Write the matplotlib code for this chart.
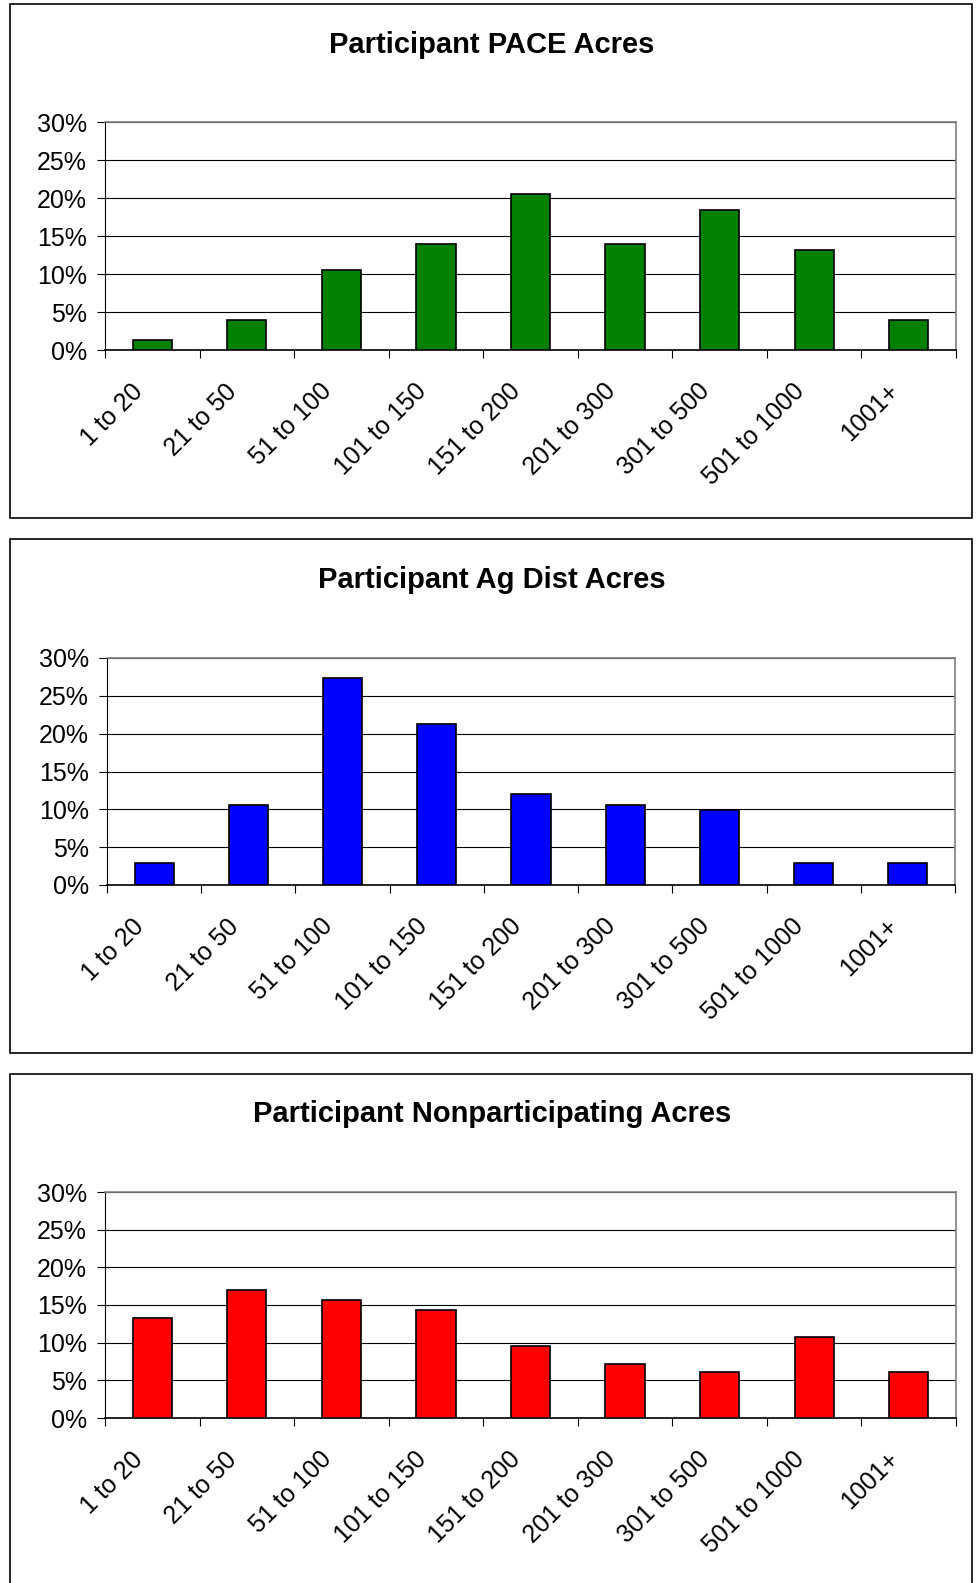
import numpy as np
import matplotlib
matplotlib.use('Agg')
import matplotlib.pyplot as plt
from matplotlib.patches import Rectangle
from matplotlib.ticker import PercentFormatter, FixedLocator
from matplotlib.transforms import ScaledTranslation

plt.rcParams['font.family'] = ['Liberation Sans', 'DejaVu Sans']

categories = ['1 to 20', '21 to 50', '51 to 100', '101 to 150', '151 to 200',
              '201 to 300', '301 to 500', '501 to 1000', '1001+']

pace_acres = [1.3, 3.9, 10.5, 14.0, 20.5, 14.0, 18.4, 13.2, 3.9]
ag_dist_acres = [2.9, 10.6, 27.4, 21.3, 12.0, 10.6, 9.9, 2.9, 2.9]
nonpart_acres = [13.3, 17.0, 15.7, 14.3, 9.5, 7.2, 6.1, 10.8, 6.1]

titles = ['Participant PACE Acres', 'Participant Ag Dist Acres',
          'Participant Nonparticipating Acres']
colors = ['#008000', '#0000FF', '#FF0000']
series = [pace_acres, ag_dist_acres, nonpart_acres]

W, H = 977, 1583
fig = plt.figure(figsize=(W / 100, H / 100), dpi=100)

# pixel layout: (box top, box bottom, axes left, axes right, axes top, axes bottom, title y)
layout = [
    (4, 518, 105, 956, 122, 350, 45),
    (539, 1053, 107, 955, 658, 885, 580),
    (1074, 1600, 105, 956, 1192, 1418, 1114),
]

for (btop, bbot, al, ar, at, ab, ty), vals, col, title in zip(layout, series, colors, titles):
    # outer chart frame
    fig.patches.append(Rectangle((10 / W, 1 - bbot / H), (972 - 10) / W, (bbot - btop) / H,
                                 transform=fig.transFigure, fill=False,
                                 edgecolor='black', linewidth=1.2))
    fig.text(492 / W, 1 - ty / H, title, ha='center', va='center',
             fontsize=21, fontweight='bold')

    ax = fig.add_axes([al / W, 1 - ab / H, (ar - al) / W, (ab - at) / H])
    x = np.arange(len(categories))
    ax.bar(x, np.array(vals) / 100, width=0.415, color=col, edgecolor='black',
           linewidth=1.2, zorder=3)

    ax.set_xlim(-0.5, len(categories) - 0.5)
    ax.set_ylim(0, 0.30)
    ax.set_yticks(np.arange(0, 0.301, 0.05))
    ax.yaxis.set_major_formatter(PercentFormatter(1.0, decimals=0))
    ax.yaxis.grid(True, color='black', linewidth=0.8)
    ax.set_axisbelow(True)

    ax.set_xticks(x)
    ax.set_xticklabels(categories, rotation=45, ha='right', va='top',
                       rotation_mode='anchor')
    ax.xaxis.set_minor_locator(FixedLocator(np.arange(-0.5, len(categories), 1.0)))
    ax.tick_params(axis='x', which='major', length=0, pad=21, labelsize=18)
    ax.tick_params(axis='x', which='minor', length=6, width=0.8, direction='out')
    ax.tick_params(axis='y', length=6, width=0.8, direction='out', pad=7, labelsize=18)
    for lab in ax.get_xticklabels():
        lab.set_transform(lab.get_transform() + ScaledTranslation(-22 / 100, 0, fig.dpi_scale_trans))

    ax.spines['top'].set_color('#808080')
    ax.spines['right'].set_color('#808080')
    ax.spines['top'].set_linewidth(1.2)
    ax.spines['right'].set_linewidth(1.2)
    ax.spines['left'].set_linewidth(0.8)
    ax.spines['bottom'].set_linewidth(1.2)

fig.savefig('out.png', dpi=100)
